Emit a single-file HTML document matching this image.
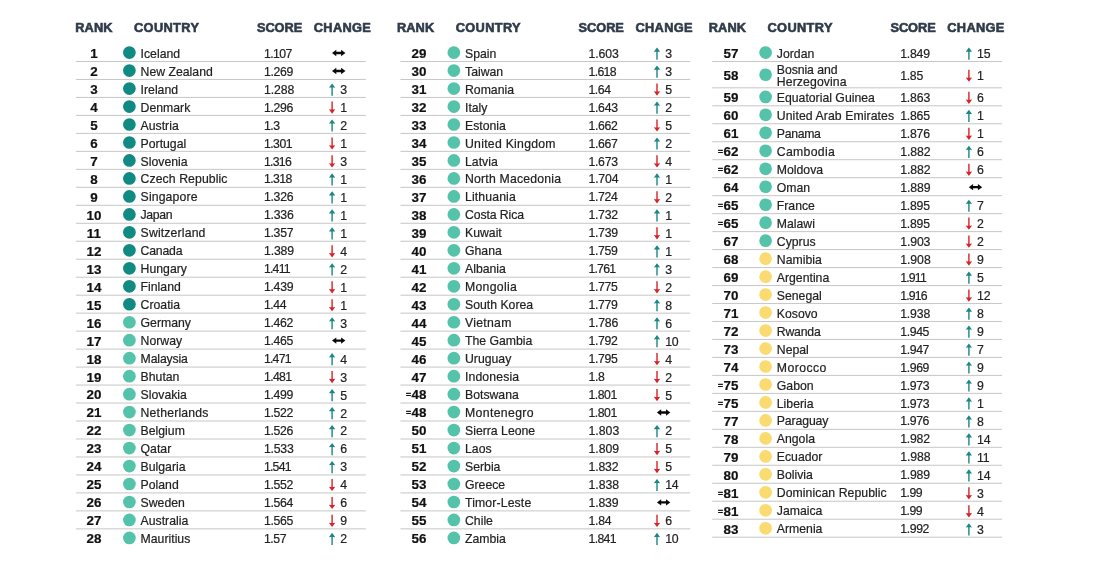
<!DOCTYPE html>
<html lang="en"><head><meta charset="utf-8"><title>Global Peace Index ranking</title>
<style>
html,body{margin:0;padding:0;background:#fff;}
body{width:1095px;height:587px;position:relative;overflow:hidden;font-family:"Liberation Sans",sans-serif;color:#1d1d1d;}
.h{position:absolute;top:20.0px;font-weight:700;font-size:12.8px;line-height:16px;letter-spacing:.12px;color:#303b4a;white-space:nowrap;-webkit-text-stroke:.6px #303b4a;}
.ln{position:absolute;height:1px;background:#cdcdcd;box-shadow:0 1px 0 #efefef,0 -1px 0 #f8f8f8;}
.r{position:absolute;width:40px;text-align:center;font-weight:700;font-size:12.5px;line-height:16px;color:#111;white-space:nowrap;letter-spacing:.1px;transform:scaleX(1.07);-webkit-text-stroke:.2px #111;}
.r i{position:absolute;right:100%;margin-right:-12.6px;font-style:normal;font-size:8px;top:.1px;-webkit-text-stroke:.45px #111;transform:scaleY(.85);letter-spacing:0}
.d{position:absolute;width:12.8px;height:12.8px;border-radius:50%;}
.c{position:absolute;font-size:12.25px;line-height:16px;white-space:nowrap;color:#222;-webkit-text-stroke:.2px #222;}
.c2{line-height:11.9px;}
.s{position:absolute;font-size:12.25px;line-height:16px;white-space:nowrap;color:#222;letter-spacing:-.42px;-webkit-text-stroke:.2px #222;}
.n{position:absolute;font-size:12.3px;line-height:16px;white-space:nowrap;color:#222;letter-spacing:-.3px;-webkit-text-stroke:.2px #222;}
svg{position:absolute;overflow:visible;}
</style></head><body>

<svg width="1095" height="587" viewBox="0 0 1095 587" style="left:0;top:0"><rect x="76.00" y="60.98" width="289.80" height="1.05" fill="#c9c9c9"/>
<circle cx="129.40" cy="52.61" r="6.35" fill="#118a84"/>
<path transform="translate(332.10 50.01)" d="M-0.1 3 L4.2 -0.2 V1.8 H9 V-0.2 L13.3 3 L9 6.2 V4.2 H4.2 V6.2 Z" fill="#0a0a0a"/>
<rect x="76.00" y="78.95" width="289.80" height="1.05" fill="#c9c9c9"/>
<circle cx="129.40" cy="70.59" r="6.35" fill="#118a84"/>
<path transform="translate(332.10 67.99)" d="M-0.1 3 L4.2 -0.2 V1.8 H9 V-0.2 L13.3 3 L9 6.2 V4.2 H4.2 V6.2 Z" fill="#0a0a0a"/>
<rect x="76.00" y="96.93" width="289.80" height="1.05" fill="#c9c9c9"/>
<circle cx="129.40" cy="88.56" r="6.35" fill="#118a84"/>
<path transform="translate(329.00 83.46)" d="M3.1 0 L6.3 4.3 Q3.1 3.5 -0.1 4.3 Z M2.4 2.5 H3.8 V12.2 H2.4 Z" fill="#1a8784"/>
<rect x="76.00" y="114.90" width="289.80" height="1.05" fill="#c9c9c9"/>
<circle cx="129.40" cy="106.54" r="6.35" fill="#118a84"/>
<path transform="translate(329.00 101.44)" d="M3.1 12.2 L-0.1 7.8 Q3.1 8.3 6.3 7.8 Z M2.4 0 H3.8 V9.5 H2.4 Z" fill="#d6232a"/>
<rect x="76.00" y="132.88" width="289.80" height="1.05" fill="#c9c9c9"/>
<circle cx="129.40" cy="124.51" r="6.35" fill="#118a84"/>
<path transform="translate(329.00 119.41)" d="M3.1 0 L6.3 4.3 Q3.1 3.5 -0.1 4.3 Z M2.4 2.5 H3.8 V12.2 H2.4 Z" fill="#1a8784"/>
<rect x="76.00" y="150.85" width="289.80" height="1.05" fill="#c9c9c9"/>
<circle cx="129.40" cy="142.49" r="6.35" fill="#118a84"/>
<path transform="translate(329.00 137.39)" d="M3.1 12.2 L-0.1 7.8 Q3.1 8.3 6.3 7.8 Z M2.4 0 H3.8 V9.5 H2.4 Z" fill="#d6232a"/>
<rect x="76.00" y="168.83" width="289.80" height="1.05" fill="#c9c9c9"/>
<circle cx="129.40" cy="160.46" r="6.35" fill="#118a84"/>
<path transform="translate(329.00 155.36)" d="M3.1 12.2 L-0.1 7.8 Q3.1 8.3 6.3 7.8 Z M2.4 0 H3.8 V9.5 H2.4 Z" fill="#d6232a"/>
<rect x="76.00" y="186.80" width="289.80" height="1.05" fill="#c9c9c9"/>
<circle cx="129.40" cy="178.44" r="6.35" fill="#118a84"/>
<path transform="translate(329.00 173.34)" d="M3.1 0 L6.3 4.3 Q3.1 3.5 -0.1 4.3 Z M2.4 2.5 H3.8 V12.2 H2.4 Z" fill="#1a8784"/>
<rect x="76.00" y="204.78" width="289.80" height="1.05" fill="#c9c9c9"/>
<circle cx="129.40" cy="196.41" r="6.35" fill="#118a84"/>
<path transform="translate(329.00 191.31)" d="M3.1 0 L6.3 4.3 Q3.1 3.5 -0.1 4.3 Z M2.4 2.5 H3.8 V12.2 H2.4 Z" fill="#1a8784"/>
<rect x="76.00" y="222.75" width="289.80" height="1.05" fill="#c9c9c9"/>
<circle cx="129.40" cy="214.39" r="6.35" fill="#118a84"/>
<path transform="translate(329.00 209.29)" d="M3.1 0 L6.3 4.3 Q3.1 3.5 -0.1 4.3 Z M2.4 2.5 H3.8 V12.2 H2.4 Z" fill="#1a8784"/>
<rect x="76.00" y="240.73" width="289.80" height="1.05" fill="#c9c9c9"/>
<circle cx="129.40" cy="232.36" r="6.35" fill="#118a84"/>
<path transform="translate(329.00 227.26)" d="M3.1 0 L6.3 4.3 Q3.1 3.5 -0.1 4.3 Z M2.4 2.5 H3.8 V12.2 H2.4 Z" fill="#1a8784"/>
<rect x="76.00" y="258.70" width="289.80" height="1.05" fill="#c9c9c9"/>
<circle cx="129.40" cy="250.34" r="6.35" fill="#118a84"/>
<path transform="translate(329.00 245.24)" d="M3.1 12.2 L-0.1 7.8 Q3.1 8.3 6.3 7.8 Z M2.4 0 H3.8 V9.5 H2.4 Z" fill="#d6232a"/>
<rect x="76.00" y="276.68" width="289.80" height="1.05" fill="#c9c9c9"/>
<circle cx="129.40" cy="268.31" r="6.35" fill="#118a84"/>
<path transform="translate(329.00 263.21)" d="M3.1 0 L6.3 4.3 Q3.1 3.5 -0.1 4.3 Z M2.4 2.5 H3.8 V12.2 H2.4 Z" fill="#1a8784"/>
<rect x="76.00" y="294.66" width="289.80" height="1.05" fill="#c9c9c9"/>
<circle cx="129.40" cy="286.29" r="6.35" fill="#118a84"/>
<path transform="translate(329.00 281.19)" d="M3.1 12.2 L-0.1 7.8 Q3.1 8.3 6.3 7.8 Z M2.4 0 H3.8 V9.5 H2.4 Z" fill="#d6232a"/>
<rect x="76.00" y="312.63" width="289.80" height="1.05" fill="#c9c9c9"/>
<circle cx="129.40" cy="304.26" r="6.35" fill="#118a84"/>
<path transform="translate(329.00 299.16)" d="M3.1 12.2 L-0.1 7.8 Q3.1 8.3 6.3 7.8 Z M2.4 0 H3.8 V9.5 H2.4 Z" fill="#d6232a"/>
<rect x="76.00" y="330.61" width="289.80" height="1.05" fill="#c9c9c9"/>
<circle cx="129.40" cy="322.24" r="6.35" fill="#55c3aa"/>
<path transform="translate(329.00 317.14)" d="M3.1 0 L6.3 4.3 Q3.1 3.5 -0.1 4.3 Z M2.4 2.5 H3.8 V12.2 H2.4 Z" fill="#1a8784"/>
<rect x="76.00" y="348.58" width="289.80" height="1.05" fill="#c9c9c9"/>
<circle cx="129.40" cy="340.21" r="6.35" fill="#55c3aa"/>
<path transform="translate(332.10 337.61)" d="M-0.1 3 L4.2 -0.2 V1.8 H9 V-0.2 L13.3 3 L9 6.2 V4.2 H4.2 V6.2 Z" fill="#0a0a0a"/>
<rect x="76.00" y="366.56" width="289.80" height="1.05" fill="#c9c9c9"/>
<circle cx="129.40" cy="358.19" r="6.35" fill="#55c3aa"/>
<path transform="translate(329.00 353.09)" d="M3.1 0 L6.3 4.3 Q3.1 3.5 -0.1 4.3 Z M2.4 2.5 H3.8 V12.2 H2.4 Z" fill="#1a8784"/>
<rect x="76.00" y="384.53" width="289.80" height="1.05" fill="#c9c9c9"/>
<circle cx="129.40" cy="376.16" r="6.35" fill="#55c3aa"/>
<path transform="translate(329.00 371.06)" d="M3.1 12.2 L-0.1 7.8 Q3.1 8.3 6.3 7.8 Z M2.4 0 H3.8 V9.5 H2.4 Z" fill="#d6232a"/>
<rect x="76.00" y="402.51" width="289.80" height="1.05" fill="#c9c9c9"/>
<circle cx="129.40" cy="394.14" r="6.35" fill="#55c3aa"/>
<path transform="translate(329.00 389.04)" d="M3.1 0 L6.3 4.3 Q3.1 3.5 -0.1 4.3 Z M2.4 2.5 H3.8 V12.2 H2.4 Z" fill="#1a8784"/>
<rect x="76.00" y="420.48" width="289.80" height="1.05" fill="#c9c9c9"/>
<circle cx="129.40" cy="412.11" r="6.35" fill="#55c3aa"/>
<path transform="translate(329.00 407.01)" d="M3.1 0 L6.3 4.3 Q3.1 3.5 -0.1 4.3 Z M2.4 2.5 H3.8 V12.2 H2.4 Z" fill="#1a8784"/>
<rect x="76.00" y="438.46" width="289.80" height="1.05" fill="#c9c9c9"/>
<circle cx="129.40" cy="430.09" r="6.35" fill="#55c3aa"/>
<path transform="translate(329.00 424.99)" d="M3.1 0 L6.3 4.3 Q3.1 3.5 -0.1 4.3 Z M2.4 2.5 H3.8 V12.2 H2.4 Z" fill="#1a8784"/>
<rect x="76.00" y="456.43" width="289.80" height="1.05" fill="#c9c9c9"/>
<circle cx="129.40" cy="448.06" r="6.35" fill="#55c3aa"/>
<path transform="translate(329.00 442.96)" d="M3.1 0 L6.3 4.3 Q3.1 3.5 -0.1 4.3 Z M2.4 2.5 H3.8 V12.2 H2.4 Z" fill="#1a8784"/>
<rect x="76.00" y="474.41" width="289.80" height="1.05" fill="#c9c9c9"/>
<circle cx="129.40" cy="466.04" r="6.35" fill="#55c3aa"/>
<path transform="translate(329.00 460.94)" d="M3.1 0 L6.3 4.3 Q3.1 3.5 -0.1 4.3 Z M2.4 2.5 H3.8 V12.2 H2.4 Z" fill="#1a8784"/>
<rect x="76.00" y="492.38" width="289.80" height="1.05" fill="#c9c9c9"/>
<circle cx="129.40" cy="484.01" r="6.35" fill="#55c3aa"/>
<path transform="translate(329.00 478.91)" d="M3.1 12.2 L-0.1 7.8 Q3.1 8.3 6.3 7.8 Z M2.4 0 H3.8 V9.5 H2.4 Z" fill="#d6232a"/>
<rect x="76.00" y="510.36" width="289.80" height="1.05" fill="#c9c9c9"/>
<circle cx="129.40" cy="501.99" r="6.35" fill="#55c3aa"/>
<path transform="translate(329.00 496.89)" d="M3.1 12.2 L-0.1 7.8 Q3.1 8.3 6.3 7.8 Z M2.4 0 H3.8 V9.5 H2.4 Z" fill="#d6232a"/>
<rect x="76.00" y="528.33" width="289.80" height="1.05" fill="#c9c9c9"/>
<circle cx="129.40" cy="519.96" r="6.35" fill="#55c3aa"/>
<path transform="translate(329.00 514.86)" d="M3.1 12.2 L-0.1 7.8 Q3.1 8.3 6.3 7.8 Z M2.4 0 H3.8 V9.5 H2.4 Z" fill="#d6232a"/>
<circle cx="129.40" cy="537.94" r="6.35" fill="#55c3aa"/>
<path transform="translate(329.00 532.84)" d="M3.1 0 L6.3 4.3 Q3.1 3.5 -0.1 4.3 Z M2.4 2.5 H3.8 V12.2 H2.4 Z" fill="#1a8784"/>
<rect x="400.45" y="60.98" width="289.80" height="1.05" fill="#c9c9c9"/>
<circle cx="453.85" cy="52.61" r="6.35" fill="#55c3aa"/>
<path transform="translate(653.90 47.51)" d="M3.1 0 L6.3 4.3 Q3.1 3.5 -0.1 4.3 Z M2.4 2.5 H3.8 V12.2 H2.4 Z" fill="#1a8784"/>
<rect x="400.45" y="78.95" width="289.80" height="1.05" fill="#c9c9c9"/>
<circle cx="453.85" cy="70.59" r="6.35" fill="#55c3aa"/>
<path transform="translate(653.90 65.49)" d="M3.1 0 L6.3 4.3 Q3.1 3.5 -0.1 4.3 Z M2.4 2.5 H3.8 V12.2 H2.4 Z" fill="#1a8784"/>
<rect x="400.45" y="96.93" width="289.80" height="1.05" fill="#c9c9c9"/>
<circle cx="453.85" cy="88.56" r="6.35" fill="#55c3aa"/>
<path transform="translate(653.90 83.46)" d="M3.1 12.2 L-0.1 7.8 Q3.1 8.3 6.3 7.8 Z M2.4 0 H3.8 V9.5 H2.4 Z" fill="#d6232a"/>
<rect x="400.45" y="114.90" width="289.80" height="1.05" fill="#c9c9c9"/>
<circle cx="453.85" cy="106.54" r="6.35" fill="#55c3aa"/>
<path transform="translate(653.90 101.44)" d="M3.1 0 L6.3 4.3 Q3.1 3.5 -0.1 4.3 Z M2.4 2.5 H3.8 V12.2 H2.4 Z" fill="#1a8784"/>
<rect x="400.45" y="132.88" width="289.80" height="1.05" fill="#c9c9c9"/>
<circle cx="453.85" cy="124.51" r="6.35" fill="#55c3aa"/>
<path transform="translate(653.90 119.41)" d="M3.1 12.2 L-0.1 7.8 Q3.1 8.3 6.3 7.8 Z M2.4 0 H3.8 V9.5 H2.4 Z" fill="#d6232a"/>
<rect x="400.45" y="150.85" width="289.80" height="1.05" fill="#c9c9c9"/>
<circle cx="453.85" cy="142.49" r="6.35" fill="#55c3aa"/>
<path transform="translate(653.90 137.39)" d="M3.1 0 L6.3 4.3 Q3.1 3.5 -0.1 4.3 Z M2.4 2.5 H3.8 V12.2 H2.4 Z" fill="#1a8784"/>
<rect x="400.45" y="168.83" width="289.80" height="1.05" fill="#c9c9c9"/>
<circle cx="453.85" cy="160.46" r="6.35" fill="#55c3aa"/>
<path transform="translate(653.90 155.36)" d="M3.1 12.2 L-0.1 7.8 Q3.1 8.3 6.3 7.8 Z M2.4 0 H3.8 V9.5 H2.4 Z" fill="#d6232a"/>
<rect x="400.45" y="186.80" width="289.80" height="1.05" fill="#c9c9c9"/>
<circle cx="453.85" cy="178.44" r="6.35" fill="#55c3aa"/>
<path transform="translate(653.90 173.34)" d="M3.1 0 L6.3 4.3 Q3.1 3.5 -0.1 4.3 Z M2.4 2.5 H3.8 V12.2 H2.4 Z" fill="#1a8784"/>
<rect x="400.45" y="204.78" width="289.80" height="1.05" fill="#c9c9c9"/>
<circle cx="453.85" cy="196.41" r="6.35" fill="#55c3aa"/>
<path transform="translate(653.90 191.31)" d="M3.1 12.2 L-0.1 7.8 Q3.1 8.3 6.3 7.8 Z M2.4 0 H3.8 V9.5 H2.4 Z" fill="#d6232a"/>
<rect x="400.45" y="222.75" width="289.80" height="1.05" fill="#c9c9c9"/>
<circle cx="453.85" cy="214.39" r="6.35" fill="#55c3aa"/>
<path transform="translate(653.90 209.29)" d="M3.1 0 L6.3 4.3 Q3.1 3.5 -0.1 4.3 Z M2.4 2.5 H3.8 V12.2 H2.4 Z" fill="#1a8784"/>
<rect x="400.45" y="240.73" width="289.80" height="1.05" fill="#c9c9c9"/>
<circle cx="453.85" cy="232.36" r="6.35" fill="#55c3aa"/>
<path transform="translate(653.90 227.26)" d="M3.1 12.2 L-0.1 7.8 Q3.1 8.3 6.3 7.8 Z M2.4 0 H3.8 V9.5 H2.4 Z" fill="#d6232a"/>
<rect x="400.45" y="258.70" width="289.80" height="1.05" fill="#c9c9c9"/>
<circle cx="453.85" cy="250.34" r="6.35" fill="#55c3aa"/>
<path transform="translate(653.90 245.24)" d="M3.1 0 L6.3 4.3 Q3.1 3.5 -0.1 4.3 Z M2.4 2.5 H3.8 V12.2 H2.4 Z" fill="#1a8784"/>
<rect x="400.45" y="276.68" width="289.80" height="1.05" fill="#c9c9c9"/>
<circle cx="453.85" cy="268.31" r="6.35" fill="#55c3aa"/>
<path transform="translate(653.90 263.21)" d="M3.1 0 L6.3 4.3 Q3.1 3.5 -0.1 4.3 Z M2.4 2.5 H3.8 V12.2 H2.4 Z" fill="#1a8784"/>
<rect x="400.45" y="294.66" width="289.80" height="1.05" fill="#c9c9c9"/>
<circle cx="453.85" cy="286.29" r="6.35" fill="#55c3aa"/>
<path transform="translate(653.90 281.19)" d="M3.1 12.2 L-0.1 7.8 Q3.1 8.3 6.3 7.8 Z M2.4 0 H3.8 V9.5 H2.4 Z" fill="#d6232a"/>
<rect x="400.45" y="312.63" width="289.80" height="1.05" fill="#c9c9c9"/>
<circle cx="453.85" cy="304.26" r="6.35" fill="#55c3aa"/>
<path transform="translate(653.90 299.16)" d="M3.1 0 L6.3 4.3 Q3.1 3.5 -0.1 4.3 Z M2.4 2.5 H3.8 V12.2 H2.4 Z" fill="#1a8784"/>
<rect x="400.45" y="330.61" width="289.80" height="1.05" fill="#c9c9c9"/>
<circle cx="453.85" cy="322.24" r="6.35" fill="#55c3aa"/>
<path transform="translate(653.90 317.14)" d="M3.1 0 L6.3 4.3 Q3.1 3.5 -0.1 4.3 Z M2.4 2.5 H3.8 V12.2 H2.4 Z" fill="#1a8784"/>
<rect x="400.45" y="348.58" width="289.80" height="1.05" fill="#c9c9c9"/>
<circle cx="453.85" cy="340.21" r="6.35" fill="#55c3aa"/>
<path transform="translate(653.90 335.11)" d="M3.1 0 L6.3 4.3 Q3.1 3.5 -0.1 4.3 Z M2.4 2.5 H3.8 V12.2 H2.4 Z" fill="#1a8784"/>
<rect x="400.45" y="366.56" width="289.80" height="1.05" fill="#c9c9c9"/>
<circle cx="453.85" cy="358.19" r="6.35" fill="#55c3aa"/>
<path transform="translate(653.90 353.09)" d="M3.1 12.2 L-0.1 7.8 Q3.1 8.3 6.3 7.8 Z M2.4 0 H3.8 V9.5 H2.4 Z" fill="#d6232a"/>
<rect x="400.45" y="384.53" width="289.80" height="1.05" fill="#c9c9c9"/>
<circle cx="453.85" cy="376.16" r="6.35" fill="#55c3aa"/>
<path transform="translate(653.90 371.06)" d="M3.1 12.2 L-0.1 7.8 Q3.1 8.3 6.3 7.8 Z M2.4 0 H3.8 V9.5 H2.4 Z" fill="#d6232a"/>
<rect x="400.45" y="402.51" width="289.80" height="1.05" fill="#c9c9c9"/>
<circle cx="453.85" cy="394.14" r="6.35" fill="#55c3aa"/>
<path transform="translate(653.90 389.04)" d="M3.1 12.2 L-0.1 7.8 Q3.1 8.3 6.3 7.8 Z M2.4 0 H3.8 V9.5 H2.4 Z" fill="#d6232a"/>
<rect x="400.45" y="420.48" width="289.80" height="1.05" fill="#c9c9c9"/>
<circle cx="453.85" cy="412.11" r="6.35" fill="#55c3aa"/>
<path transform="translate(657.00 409.51)" d="M-0.1 3 L4.2 -0.2 V1.8 H9 V-0.2 L13.3 3 L9 6.2 V4.2 H4.2 V6.2 Z" fill="#0a0a0a"/>
<rect x="400.45" y="438.46" width="289.80" height="1.05" fill="#c9c9c9"/>
<circle cx="453.85" cy="430.09" r="6.35" fill="#55c3aa"/>
<path transform="translate(653.90 424.99)" d="M3.1 0 L6.3 4.3 Q3.1 3.5 -0.1 4.3 Z M2.4 2.5 H3.8 V12.2 H2.4 Z" fill="#1a8784"/>
<rect x="400.45" y="456.43" width="289.80" height="1.05" fill="#c9c9c9"/>
<circle cx="453.85" cy="448.06" r="6.35" fill="#55c3aa"/>
<path transform="translate(653.90 442.96)" d="M3.1 12.2 L-0.1 7.8 Q3.1 8.3 6.3 7.8 Z M2.4 0 H3.8 V9.5 H2.4 Z" fill="#d6232a"/>
<rect x="400.45" y="474.41" width="289.80" height="1.05" fill="#c9c9c9"/>
<circle cx="453.85" cy="466.04" r="6.35" fill="#55c3aa"/>
<path transform="translate(653.90 460.94)" d="M3.1 12.2 L-0.1 7.8 Q3.1 8.3 6.3 7.8 Z M2.4 0 H3.8 V9.5 H2.4 Z" fill="#d6232a"/>
<rect x="400.45" y="492.38" width="289.80" height="1.05" fill="#c9c9c9"/>
<circle cx="453.85" cy="484.01" r="6.35" fill="#55c3aa"/>
<path transform="translate(653.90 478.91)" d="M3.1 0 L6.3 4.3 Q3.1 3.5 -0.1 4.3 Z M2.4 2.5 H3.8 V12.2 H2.4 Z" fill="#1a8784"/>
<rect x="400.45" y="510.36" width="289.80" height="1.05" fill="#c9c9c9"/>
<circle cx="453.85" cy="501.99" r="6.35" fill="#55c3aa"/>
<path transform="translate(657.00 499.39)" d="M-0.1 3 L4.2 -0.2 V1.8 H9 V-0.2 L13.3 3 L9 6.2 V4.2 H4.2 V6.2 Z" fill="#0a0a0a"/>
<rect x="400.45" y="528.33" width="289.80" height="1.05" fill="#c9c9c9"/>
<circle cx="453.85" cy="519.96" r="6.35" fill="#55c3aa"/>
<path transform="translate(653.90 514.86)" d="M3.1 12.2 L-0.1 7.8 Q3.1 8.3 6.3 7.8 Z M2.4 0 H3.8 V9.5 H2.4 Z" fill="#d6232a"/>
<circle cx="453.85" cy="537.94" r="6.35" fill="#55c3aa"/>
<path transform="translate(653.90 532.84)" d="M3.1 0 L6.3 4.3 Q3.1 3.5 -0.1 4.3 Z M2.4 2.5 H3.8 V12.2 H2.4 Z" fill="#1a8784"/>
<rect x="712.20" y="60.98" width="289.80" height="1.05" fill="#c9c9c9"/>
<circle cx="765.60" cy="52.61" r="6.35" fill="#55c3aa"/>
<path transform="translate(965.80 47.51)" d="M3.1 0 L6.3 4.3 Q3.1 3.5 -0.1 4.3 Z M2.4 2.5 H3.8 V12.2 H2.4 Z" fill="#1a8784"/>
<rect x="712.20" y="87.28" width="289.80" height="1.05" fill="#c9c9c9"/>
<circle cx="765.60" cy="74.75" r="6.35" fill="#55c3aa"/>
<path transform="translate(965.80 69.65)" d="M3.1 12.2 L-0.1 7.8 Q3.1 8.3 6.3 7.8 Z M2.4 0 H3.8 V9.5 H2.4 Z" fill="#d6232a"/>
<rect x="712.20" y="105.26" width="289.80" height="1.05" fill="#c9c9c9"/>
<circle cx="765.60" cy="96.89" r="6.35" fill="#55c3aa"/>
<path transform="translate(965.80 91.79)" d="M3.1 12.2 L-0.1 7.8 Q3.1 8.3 6.3 7.8 Z M2.4 0 H3.8 V9.5 H2.4 Z" fill="#d6232a"/>
<rect x="712.20" y="123.23" width="289.80" height="1.05" fill="#c9c9c9"/>
<circle cx="765.60" cy="114.86" r="6.35" fill="#55c3aa"/>
<path transform="translate(965.80 109.76)" d="M3.1 0 L6.3 4.3 Q3.1 3.5 -0.1 4.3 Z M2.4 2.5 H3.8 V12.2 H2.4 Z" fill="#1a8784"/>
<rect x="712.20" y="141.20" width="289.80" height="1.05" fill="#c9c9c9"/>
<circle cx="765.60" cy="132.84" r="6.35" fill="#55c3aa"/>
<path transform="translate(965.80 127.74)" d="M3.1 12.2 L-0.1 7.8 Q3.1 8.3 6.3 7.8 Z M2.4 0 H3.8 V9.5 H2.4 Z" fill="#d6232a"/>
<rect x="712.20" y="159.18" width="289.80" height="1.05" fill="#c9c9c9"/>
<circle cx="765.60" cy="150.81" r="6.35" fill="#55c3aa"/>
<path transform="translate(965.80 145.71)" d="M3.1 0 L6.3 4.3 Q3.1 3.5 -0.1 4.3 Z M2.4 2.5 H3.8 V12.2 H2.4 Z" fill="#1a8784"/>
<rect x="712.20" y="177.15" width="289.80" height="1.05" fill="#c9c9c9"/>
<circle cx="765.60" cy="168.79" r="6.35" fill="#55c3aa"/>
<path transform="translate(965.80 163.69)" d="M3.1 12.2 L-0.1 7.8 Q3.1 8.3 6.3 7.8 Z M2.4 0 H3.8 V9.5 H2.4 Z" fill="#d6232a"/>
<rect x="712.20" y="195.13" width="289.80" height="1.05" fill="#c9c9c9"/>
<circle cx="765.60" cy="186.76" r="6.35" fill="#55c3aa"/>
<path transform="translate(968.90 184.16)" d="M-0.1 3 L4.2 -0.2 V1.8 H9 V-0.2 L13.3 3 L9 6.2 V4.2 H4.2 V6.2 Z" fill="#0a0a0a"/>
<rect x="712.20" y="213.10" width="289.80" height="1.05" fill="#c9c9c9"/>
<circle cx="765.60" cy="204.74" r="6.35" fill="#55c3aa"/>
<path transform="translate(965.80 199.64)" d="M3.1 0 L6.3 4.3 Q3.1 3.5 -0.1 4.3 Z M2.4 2.5 H3.8 V12.2 H2.4 Z" fill="#1a8784"/>
<rect x="712.20" y="231.08" width="289.80" height="1.05" fill="#c9c9c9"/>
<circle cx="765.60" cy="222.71" r="6.35" fill="#55c3aa"/>
<path transform="translate(965.80 217.61)" d="M3.1 12.2 L-0.1 7.8 Q3.1 8.3 6.3 7.8 Z M2.4 0 H3.8 V9.5 H2.4 Z" fill="#d6232a"/>
<rect x="712.20" y="249.05" width="289.80" height="1.05" fill="#c9c9c9"/>
<circle cx="765.60" cy="240.69" r="6.35" fill="#55c3aa"/>
<path transform="translate(965.80 235.59)" d="M3.1 12.2 L-0.1 7.8 Q3.1 8.3 6.3 7.8 Z M2.4 0 H3.8 V9.5 H2.4 Z" fill="#d6232a"/>
<rect x="712.20" y="267.03" width="289.80" height="1.05" fill="#c9c9c9"/>
<circle cx="765.60" cy="258.66" r="6.35" fill="#fadb72"/>
<path transform="translate(965.80 253.56)" d="M3.1 12.2 L-0.1 7.8 Q3.1 8.3 6.3 7.8 Z M2.4 0 H3.8 V9.5 H2.4 Z" fill="#d6232a"/>
<rect x="712.20" y="285.00" width="289.80" height="1.05" fill="#c9c9c9"/>
<circle cx="765.60" cy="276.64" r="6.35" fill="#fadb72"/>
<path transform="translate(965.80 271.54)" d="M3.1 0 L6.3 4.3 Q3.1 3.5 -0.1 4.3 Z M2.4 2.5 H3.8 V12.2 H2.4 Z" fill="#1a8784"/>
<rect x="712.20" y="302.98" width="289.80" height="1.05" fill="#c9c9c9"/>
<circle cx="765.60" cy="294.61" r="6.35" fill="#fadb72"/>
<path transform="translate(965.80 289.51)" d="M3.1 12.2 L-0.1 7.8 Q3.1 8.3 6.3 7.8 Z M2.4 0 H3.8 V9.5 H2.4 Z" fill="#d6232a"/>
<rect x="712.20" y="320.96" width="289.80" height="1.05" fill="#c9c9c9"/>
<circle cx="765.60" cy="312.59" r="6.35" fill="#fadb72"/>
<path transform="translate(965.80 307.49)" d="M3.1 0 L6.3 4.3 Q3.1 3.5 -0.1 4.3 Z M2.4 2.5 H3.8 V12.2 H2.4 Z" fill="#1a8784"/>
<rect x="712.20" y="338.93" width="289.80" height="1.05" fill="#c9c9c9"/>
<circle cx="765.60" cy="330.56" r="6.35" fill="#fadb72"/>
<path transform="translate(965.80 325.46)" d="M3.1 0 L6.3 4.3 Q3.1 3.5 -0.1 4.3 Z M2.4 2.5 H3.8 V12.2 H2.4 Z" fill="#1a8784"/>
<rect x="712.20" y="356.91" width="289.80" height="1.05" fill="#c9c9c9"/>
<circle cx="765.60" cy="348.54" r="6.35" fill="#fadb72"/>
<path transform="translate(965.80 343.44)" d="M3.1 0 L6.3 4.3 Q3.1 3.5 -0.1 4.3 Z M2.4 2.5 H3.8 V12.2 H2.4 Z" fill="#1a8784"/>
<rect x="712.20" y="374.88" width="289.80" height="1.05" fill="#c9c9c9"/>
<circle cx="765.60" cy="366.51" r="6.35" fill="#fadb72"/>
<path transform="translate(965.80 361.41)" d="M3.1 0 L6.3 4.3 Q3.1 3.5 -0.1 4.3 Z M2.4 2.5 H3.8 V12.2 H2.4 Z" fill="#1a8784"/>
<rect x="712.20" y="392.86" width="289.80" height="1.05" fill="#c9c9c9"/>
<circle cx="765.60" cy="384.49" r="6.35" fill="#fadb72"/>
<path transform="translate(965.80 379.39)" d="M3.1 0 L6.3 4.3 Q3.1 3.5 -0.1 4.3 Z M2.4 2.5 H3.8 V12.2 H2.4 Z" fill="#1a8784"/>
<rect x="712.20" y="410.83" width="289.80" height="1.05" fill="#c9c9c9"/>
<circle cx="765.60" cy="402.46" r="6.35" fill="#fadb72"/>
<path transform="translate(965.80 397.36)" d="M3.1 0 L6.3 4.3 Q3.1 3.5 -0.1 4.3 Z M2.4 2.5 H3.8 V12.2 H2.4 Z" fill="#1a8784"/>
<rect x="712.20" y="428.81" width="289.80" height="1.05" fill="#c9c9c9"/>
<circle cx="765.60" cy="420.44" r="6.35" fill="#fadb72"/>
<path transform="translate(965.80 415.34)" d="M3.1 0 L6.3 4.3 Q3.1 3.5 -0.1 4.3 Z M2.4 2.5 H3.8 V12.2 H2.4 Z" fill="#1a8784"/>
<rect x="712.20" y="446.78" width="289.80" height="1.05" fill="#c9c9c9"/>
<circle cx="765.60" cy="438.41" r="6.35" fill="#fadb72"/>
<path transform="translate(965.80 433.31)" d="M3.1 0 L6.3 4.3 Q3.1 3.5 -0.1 4.3 Z M2.4 2.5 H3.8 V12.2 H2.4 Z" fill="#1a8784"/>
<rect x="712.20" y="464.76" width="289.80" height="1.05" fill="#c9c9c9"/>
<circle cx="765.60" cy="456.39" r="6.35" fill="#fadb72"/>
<path transform="translate(965.80 451.29)" d="M3.1 0 L6.3 4.3 Q3.1 3.5 -0.1 4.3 Z M2.4 2.5 H3.8 V12.2 H2.4 Z" fill="#1a8784"/>
<rect x="712.20" y="482.73" width="289.80" height="1.05" fill="#c9c9c9"/>
<circle cx="765.60" cy="474.36" r="6.35" fill="#fadb72"/>
<path transform="translate(965.80 469.26)" d="M3.1 0 L6.3 4.3 Q3.1 3.5 -0.1 4.3 Z M2.4 2.5 H3.8 V12.2 H2.4 Z" fill="#1a8784"/>
<rect x="712.20" y="500.71" width="289.80" height="1.05" fill="#c9c9c9"/>
<circle cx="765.60" cy="492.34" r="6.35" fill="#fadb72"/>
<path transform="translate(965.80 487.24)" d="M3.1 12.2 L-0.1 7.8 Q3.1 8.3 6.3 7.8 Z M2.4 0 H3.8 V9.5 H2.4 Z" fill="#d6232a"/>
<rect x="712.20" y="518.68" width="289.80" height="1.05" fill="#c9c9c9"/>
<circle cx="765.60" cy="510.31" r="6.35" fill="#fadb72"/>
<path transform="translate(965.80 505.21)" d="M3.1 12.2 L-0.1 7.8 Q3.1 8.3 6.3 7.8 Z M2.4 0 H3.8 V9.5 H2.4 Z" fill="#d6232a"/>
<rect x="712.20" y="536.66" width="289.80" height="1.05" fill="#c9c9c9"/>
<circle cx="765.60" cy="528.29" r="6.35" fill="#fadb72"/>
<path transform="translate(965.80 523.19)" d="M3.1 0 L6.3 4.3 Q3.1 3.5 -0.1 4.3 Z M2.4 2.5 H3.8 V12.2 H2.4 Z" fill="#1a8784"/></svg>
<div class="h" style="left:75.2px;letter-spacing:0.12px">RANK</div>
<div class="h" style="left:134.0px;letter-spacing:0.36px">COUNTRY</div>
<div class="h" style="left:256.9px;letter-spacing:-0.05px">SCORE</div>
<div class="h" style="left:313.8px;letter-spacing:0.32px">CHANGE</div>
<div class="h" style="left:396.9px;letter-spacing:0.12px">RANK</div>
<div class="h" style="left:455.7px;letter-spacing:0.36px">COUNTRY</div>
<div class="h" style="left:578.6px;letter-spacing:-0.05px">SCORE</div>
<div class="h" style="left:635.5px;letter-spacing:0.32px">CHANGE</div>
<div class="h" style="left:708.7px;letter-spacing:0.12px">RANK</div>
<div class="h" style="left:767.5px;letter-spacing:0.36px">COUNTRY</div>
<div class="h" style="left:890.4px;letter-spacing:-0.05px">SCORE</div>
<div class="h" style="left:947.3px;letter-spacing:0.32px">CHANGE</div>
<div class="r" style="left:74.3px;top:45.9px">1</div>
<div class="c" style="left:140.6px;top:45.6px">Iceland</div>
<div class="s" style="left:264.0px;top:45.6px;letter-spacing:-0.612px">1.107</div>
<div class="r" style="left:74.3px;top:63.9px">2</div>
<div class="c" style="left:140.6px;top:63.6px">New Zealand</div>
<div class="s" style="left:264.0px;top:63.6px;letter-spacing:-0.362px">1.269</div>
<div class="r" style="left:74.3px;top:81.9px">3</div>
<div class="c" style="left:140.6px;top:81.6px">Ireland</div>
<div class="s" style="left:264.0px;top:81.6px;letter-spacing:-0.088px">1.288</div>
<div class="n" style="left:340.3px;top:81.9px">3</div>
<div class="r" style="left:74.3px;top:99.8px">4</div>
<div class="c" style="left:140.6px;top:99.5px">Denmark</div>
<div class="s" style="left:264.0px;top:99.5px;letter-spacing:-0.362px">1.296</div>
<div class="n" style="left:340.3px;top:99.9px">1</div>
<div class="r" style="left:74.3px;top:117.8px">5</div>
<div class="c" style="left:140.6px;top:117.5px">Austria</div>
<div class="s" style="left:264.0px;top:117.5px;letter-spacing:-0.540px">1.3</div>
<div class="n" style="left:340.3px;top:117.9px">2</div>
<div class="r" style="left:74.3px;top:135.8px">6</div>
<div class="c" style="left:140.6px;top:135.5px">Portugal</div>
<div class="s" style="left:264.0px;top:135.5px;letter-spacing:-0.550px">1.301</div>
<div class="n" style="left:340.3px;top:135.8px">1</div>
<div class="r" style="left:74.3px;top:153.8px">7</div>
<div class="c" style="left:140.6px;top:153.5px">Slovenia</div>
<div class="s" style="left:264.0px;top:153.5px;letter-spacing:-0.737px">1.316</div>
<div class="n" style="left:340.3px;top:153.8px">3</div>
<div class="r" style="left:74.3px;top:171.7px">8</div>
<div class="c" style="left:140.6px;top:171.4px;letter-spacing:0.077px">Czech Republic</div>
<div class="s" style="left:264.0px;top:171.4px;letter-spacing:-0.600px">1.318</div>
<div class="n" style="left:340.3px;top:171.8px">1</div>
<div class="r" style="left:74.3px;top:189.7px">9</div>
<div class="c" style="left:140.6px;top:189.4px;letter-spacing:0.125px">Singapore</div>
<div class="s" style="left:264.0px;top:189.4px;letter-spacing:-0.300px">1.326</div>
<div class="n" style="left:340.3px;top:189.8px">1</div>
<div class="r" style="left:74.3px;top:207.7px">10</div>
<div class="c" style="left:140.6px;top:207.4px;letter-spacing:-0.375px">Japan</div>
<div class="s" style="left:264.0px;top:207.4px;letter-spacing:-0.237px">1.336</div>
<div class="n" style="left:340.3px;top:207.7px">1</div>
<div class="r" style="left:74.3px;top:225.7px">11</div>
<div class="c" style="left:140.6px;top:225.4px;letter-spacing:0.150px">Switzerland</div>
<div class="s" style="left:264.0px;top:225.4px;letter-spacing:-0.300px">1.357</div>
<div class="n" style="left:340.3px;top:225.7px">1</div>
<div class="r" style="left:74.3px;top:243.6px">12</div>
<div class="c" style="left:140.6px;top:243.3px;letter-spacing:-0.200px">Canada</div>
<div class="s" style="left:264.0px;top:243.3px;letter-spacing:-0.162px">1.389</div>
<div class="n" style="left:340.3px;top:243.7px">4</div>
<div class="r" style="left:74.3px;top:261.6px">13</div>
<div class="c" style="left:140.6px;top:261.3px">Hungary</div>
<div class="s" style="left:264.0px;top:261.3px;letter-spacing:-0.800px">1.411</div>
<div class="n" style="left:340.3px;top:261.7px">2</div>
<div class="r" style="left:74.3px;top:279.6px">14</div>
<div class="c" style="left:140.6px;top:279.3px">Finland</div>
<div class="s" style="left:264.0px;top:279.3px;letter-spacing:-0.300px">1.439</div>
<div class="n" style="left:340.3px;top:279.6px">1</div>
<div class="r" style="left:74.3px;top:297.6px">15</div>
<div class="c" style="left:140.6px;top:297.3px">Croatia</div>
<div class="s" style="left:264.0px;top:297.3px;letter-spacing:-0.463px">1.44</div>
<div class="n" style="left:340.3px;top:297.6px">1</div>
<div class="r" style="left:74.3px;top:315.5px">16</div>
<div class="c" style="left:140.6px;top:315.2px">Germany</div>
<div class="s" style="left:264.0px;top:315.2px;letter-spacing:-0.362px">1.462</div>
<div class="n" style="left:340.3px;top:315.6px">3</div>
<div class="r" style="left:74.3px;top:333.5px">17</div>
<div class="c" style="left:140.6px;top:333.2px">Norway</div>
<div class="s" style="left:264.0px;top:333.2px;letter-spacing:-0.362px">1.465</div>
<div class="r" style="left:74.3px;top:351.5px">18</div>
<div class="c" style="left:140.6px;top:351.2px;letter-spacing:-0.143px">Malaysia</div>
<div class="s" style="left:264.0px;top:351.2px;letter-spacing:-0.800px">1.471</div>
<div class="n" style="left:340.3px;top:351.5px">4</div>
<div class="r" style="left:74.3px;top:369.5px">19</div>
<div class="c" style="left:140.6px;top:369.2px">Bhutan</div>
<div class="s" style="left:264.0px;top:369.2px;letter-spacing:-0.662px">1.481</div>
<div class="n" style="left:340.3px;top:369.5px">3</div>
<div class="r" style="left:74.3px;top:387.4px">20</div>
<div class="c" style="left:140.6px;top:387.1px">Slovakia</div>
<div class="s" style="left:264.0px;top:387.1px;letter-spacing:-0.362px">1.499</div>
<div class="n" style="left:340.3px;top:387.5px">5</div>
<div class="r" style="left:74.3px;top:405.4px">21</div>
<div class="c" style="left:140.6px;top:405.1px;letter-spacing:0.170px">Netherlands</div>
<div class="s" style="left:264.0px;top:405.1px;letter-spacing:-0.362px">1.522</div>
<div class="n" style="left:340.3px;top:405.5px">2</div>
<div class="r" style="left:74.3px;top:423.4px">22</div>
<div class="c" style="left:140.6px;top:423.1px">Belgium</div>
<div class="s" style="left:264.0px;top:423.1px;letter-spacing:-0.362px">1.526</div>
<div class="n" style="left:340.3px;top:423.4px">2</div>
<div class="r" style="left:74.3px;top:441.4px">23</div>
<div class="c" style="left:140.6px;top:441.1px">Qatar</div>
<div class="s" style="left:264.0px;top:441.1px;letter-spacing:-0.237px">1.533</div>
<div class="n" style="left:340.3px;top:441.4px">6</div>
<div class="r" style="left:74.3px;top:459.3px">24</div>
<div class="c" style="left:140.6px;top:459.0px">Bulgaria</div>
<div class="s" style="left:264.0px;top:459.0px;letter-spacing:-0.800px">1.541</div>
<div class="n" style="left:340.3px;top:459.4px">3</div>
<div class="r" style="left:74.3px;top:477.3px">25</div>
<div class="c" style="left:140.6px;top:477.0px">Poland</div>
<div class="s" style="left:264.0px;top:477.0px;letter-spacing:-0.362px">1.552</div>
<div class="n" style="left:340.3px;top:477.4px">4</div>
<div class="r" style="left:74.3px;top:495.3px">26</div>
<div class="c" style="left:140.6px;top:495.0px">Sweden</div>
<div class="s" style="left:264.0px;top:495.0px;letter-spacing:-0.362px">1.564</div>
<div class="n" style="left:340.3px;top:495.3px">6</div>
<div class="r" style="left:74.3px;top:513.3px">27</div>
<div class="c" style="left:140.6px;top:513.0px">Australia</div>
<div class="s" style="left:264.0px;top:513.0px;letter-spacing:-0.362px">1.565</div>
<div class="n" style="left:340.3px;top:513.3px">9</div>
<div class="r" style="left:74.3px;top:531.2px">28</div>
<div class="c" style="left:140.6px;top:530.9px">Mauritius</div>
<div class="s" style="left:264.0px;top:530.9px;letter-spacing:-0.463px">1.57</div>
<div class="n" style="left:340.3px;top:531.3px">2</div>
<div class="r" style="left:398.9px;top:45.9px">29</div>
<div class="c" style="left:465.0px;top:45.6px">Spain</div>
<div class="s" style="left:588.5px;top:45.6px;letter-spacing:-0.112px">1.603</div>
<div class="n" style="left:665.2px;top:46.0px">3</div>
<div class="r" style="left:398.9px;top:63.9px">30</div>
<div class="c" style="left:465.0px;top:63.6px">Taiwan</div>
<div class="s" style="left:588.5px;top:63.6px;letter-spacing:-0.662px">1.618</div>
<div class="n" style="left:665.2px;top:63.9px">3</div>
<div class="r" style="left:398.9px;top:81.9px">31</div>
<div class="c" style="left:465.0px;top:81.6px">Romania</div>
<div class="s" style="left:588.5px;top:81.6px;letter-spacing:-0.463px">1.64</div>
<div class="n" style="left:665.2px;top:81.9px">5</div>
<div class="r" style="left:398.9px;top:99.8px">32</div>
<div class="c" style="left:465.0px;top:99.5px">Italy</div>
<div class="s" style="left:588.5px;top:99.5px;letter-spacing:-0.300px">1.643</div>
<div class="n" style="left:665.2px;top:99.9px">2</div>
<div class="r" style="left:398.9px;top:117.8px">33</div>
<div class="c" style="left:465.0px;top:117.5px">Estonia</div>
<div class="s" style="left:588.5px;top:117.5px;letter-spacing:-0.362px">1.662</div>
<div class="n" style="left:665.2px;top:117.9px">5</div>
<div class="r" style="left:398.9px;top:135.8px">34</div>
<div class="c" style="left:465.0px;top:135.5px;letter-spacing:0.262px">United Kingdom</div>
<div class="s" style="left:588.5px;top:135.5px;letter-spacing:-0.362px">1.667</div>
<div class="n" style="left:665.2px;top:135.8px">2</div>
<div class="r" style="left:398.9px;top:153.8px">35</div>
<div class="c" style="left:465.0px;top:153.5px">Latvia</div>
<div class="s" style="left:588.5px;top:153.5px;letter-spacing:-0.300px">1.673</div>
<div class="n" style="left:665.2px;top:153.8px">4</div>
<div class="r" style="left:398.9px;top:171.7px">36</div>
<div class="c" style="left:465.0px;top:171.4px;letter-spacing:0.200px">North Macedonia</div>
<div class="s" style="left:588.5px;top:171.4px;letter-spacing:-0.175px">1.704</div>
<div class="n" style="left:665.2px;top:171.8px">1</div>
<div class="r" style="left:398.9px;top:189.7px">37</div>
<div class="c" style="left:465.0px;top:189.4px;letter-spacing:0.125px">Lithuania</div>
<div class="s" style="left:588.5px;top:189.4px;letter-spacing:-0.362px">1.724</div>
<div class="n" style="left:665.2px;top:189.8px">2</div>
<div class="r" style="left:398.9px;top:207.7px">38</div>
<div class="c" style="left:465.0px;top:207.4px;letter-spacing:-0.100px">Costa Rica</div>
<div class="s" style="left:588.5px;top:207.4px;letter-spacing:-0.300px">1.732</div>
<div class="n" style="left:665.2px;top:207.7px">1</div>
<div class="r" style="left:398.9px;top:225.7px">39</div>
<div class="c" style="left:465.0px;top:225.4px">Kuwait</div>
<div class="s" style="left:588.5px;top:225.4px;letter-spacing:-0.300px">1.739</div>
<div class="n" style="left:665.2px;top:225.7px">1</div>
<div class="r" style="left:398.9px;top:243.6px">40</div>
<div class="c" style="left:465.0px;top:243.3px">Ghana</div>
<div class="s" style="left:588.5px;top:243.3px;letter-spacing:-0.362px">1.759</div>
<div class="n" style="left:665.2px;top:243.7px">1</div>
<div class="r" style="left:398.9px;top:261.6px">41</div>
<div class="c" style="left:465.0px;top:261.3px">Albania</div>
<div class="s" style="left:588.5px;top:261.3px;letter-spacing:-0.800px">1.761</div>
<div class="n" style="left:665.2px;top:261.7px">3</div>
<div class="r" style="left:398.9px;top:279.6px">42</div>
<div class="c" style="left:465.0px;top:279.3px;letter-spacing:0.300px">Mongolia</div>
<div class="s" style="left:588.5px;top:279.3px;letter-spacing:-0.362px">1.775</div>
<div class="n" style="left:665.2px;top:279.6px">2</div>
<div class="r" style="left:398.9px;top:297.6px">43</div>
<div class="c" style="left:465.0px;top:297.3px">South Korea</div>
<div class="s" style="left:588.5px;top:297.3px;letter-spacing:-0.362px">1.779</div>
<div class="n" style="left:665.2px;top:297.6px">8</div>
<div class="r" style="left:398.9px;top:315.5px">44</div>
<div class="c" style="left:465.0px;top:315.2px;letter-spacing:0.283px">Vietnam</div>
<div class="s" style="left:588.5px;top:315.2px;letter-spacing:-0.225px">1.786</div>
<div class="n" style="left:665.2px;top:315.6px">6</div>
<div class="r" style="left:398.9px;top:333.5px">45</div>
<div class="c" style="left:465.0px;top:333.2px">The Gambia</div>
<div class="s" style="left:588.5px;top:333.2px;letter-spacing:-0.362px">1.792</div>
<div class="n" style="left:665.2px;top:333.6px">10</div>
<div class="r" style="left:398.9px;top:351.5px">46</div>
<div class="c" style="left:465.0px;top:351.2px">Uruguay</div>
<div class="s" style="left:588.5px;top:351.2px;letter-spacing:-0.362px">1.795</div>
<div class="n" style="left:665.2px;top:351.5px">4</div>
<div class="r" style="left:398.9px;top:369.5px">47</div>
<div class="c" style="left:465.0px;top:369.2px;letter-spacing:0.113px">Indonesia</div>
<div class="s" style="left:588.5px;top:369.2px;letter-spacing:-0.390px">1.8</div>
<div class="n" style="left:665.2px;top:369.5px">2</div>
<div class="r" style="left:398.9px;top:387.4px"><i>=</i>48</div>
<div class="c" style="left:465.0px;top:387.1px">Botswana</div>
<div class="s" style="left:588.5px;top:387.1px;letter-spacing:-0.475px">1.801</div>
<div class="n" style="left:665.2px;top:387.5px">5</div>
<div class="r" style="left:398.9px;top:405.4px"><i>=</i>48</div>
<div class="c" style="left:465.0px;top:405.1px;letter-spacing:0.356px">Montenegro</div>
<div class="s" style="left:588.5px;top:405.1px;letter-spacing:-0.475px">1.801</div>
<div class="r" style="left:398.9px;top:423.4px">50</div>
<div class="c" style="left:465.0px;top:423.1px">Sierra Leone</div>
<div class="s" style="left:588.5px;top:423.1px;letter-spacing:0.025px">1.803</div>
<div class="n" style="left:665.2px;top:423.4px">2</div>
<div class="r" style="left:398.9px;top:441.4px">51</div>
<div class="c" style="left:465.0px;top:441.1px">Laos</div>
<div class="s" style="left:588.5px;top:441.1px;letter-spacing:-0.037px">1.809</div>
<div class="n" style="left:665.2px;top:441.4px">5</div>
<div class="r" style="left:398.9px;top:459.3px">52</div>
<div class="c" style="left:465.0px;top:459.0px">Serbia</div>
<div class="s" style="left:588.5px;top:459.0px;letter-spacing:-0.162px">1.832</div>
<div class="n" style="left:665.2px;top:459.4px">5</div>
<div class="r" style="left:398.9px;top:477.3px">53</div>
<div class="c" style="left:465.0px;top:477.0px">Greece</div>
<div class="s" style="left:588.5px;top:477.0px;letter-spacing:-0.025px">1.838</div>
<div class="n" style="left:665.2px;top:477.4px">14</div>
<div class="r" style="left:398.9px;top:495.3px">54</div>
<div class="c" style="left:465.0px;top:495.0px;letter-spacing:0.130px">Timor-Leste</div>
<div class="s" style="left:588.5px;top:495.0px;letter-spacing:-0.162px">1.839</div>
<div class="r" style="left:398.9px;top:513.3px">55</div>
<div class="c" style="left:465.0px;top:513.0px">Chile</div>
<div class="s" style="left:588.5px;top:513.0px;letter-spacing:-0.280px">1.84</div>
<div class="n" style="left:665.2px;top:513.3px">6</div>
<div class="r" style="left:398.9px;top:531.2px">56</div>
<div class="c" style="left:465.0px;top:530.9px">Zambia</div>
<div class="s" style="left:588.5px;top:530.9px;letter-spacing:-0.662px">1.841</div>
<div class="n" style="left:665.2px;top:531.3px">10</div>
<div class="r" style="left:710.9px;top:45.9px">57</div>
<div class="c" style="left:776.8px;top:45.6px">Jordan</div>
<div class="s" style="left:900.2px;top:45.6px;letter-spacing:-0.225px">1.849</div>
<div class="n" style="left:977.1px;top:46.0px">15</div>
<div class="r" style="left:710.9px;top:68.1px">58</div>
<div class="c c2" style="left:776.8px;top:64.6px"><span style="letter-spacing:-0.067px">Bosnia and</span><br><span style="letter-spacing:0.100px">Herzegovina</span></div>
<div class="s" style="left:900.2px;top:67.8px;letter-spacing:-0.280px">1.85</div>
<div class="n" style="left:977.1px;top:68.1px">1</div>
<div class="r" style="left:710.9px;top:90.2px">59</div>
<div class="c" style="left:776.8px;top:89.9px">Equatorial Guinea</div>
<div class="s" style="left:900.2px;top:89.9px;letter-spacing:-0.162px">1.863</div>
<div class="n" style="left:977.1px;top:90.2px">6</div>
<div class="r" style="left:710.9px;top:108.2px">60</div>
<div class="c" style="left:776.8px;top:107.9px;letter-spacing:0.079px">United Arab Emirates</div>
<div class="s" style="left:900.2px;top:107.9px;letter-spacing:-0.225px">1.865</div>
<div class="n" style="left:977.1px;top:108.2px">1</div>
<div class="r" style="left:710.9px;top:126.1px">61</div>
<div class="c" style="left:776.8px;top:125.8px;letter-spacing:-0.300px">Panama</div>
<div class="s" style="left:900.2px;top:125.8px;letter-spacing:-0.225px">1.876</div>
<div class="n" style="left:977.1px;top:126.2px">1</div>
<div class="r" style="left:710.9px;top:144.1px"><i>=</i>62</div>
<div class="c" style="left:776.8px;top:143.8px;letter-spacing:0.300px">Cambodia</div>
<div class="s" style="left:900.2px;top:143.8px;letter-spacing:-0.088px">1.882</div>
<div class="n" style="left:977.1px;top:144.2px">6</div>
<div class="r" style="left:710.9px;top:162.1px"><i>=</i>62</div>
<div class="c" style="left:776.8px;top:161.8px">Moldova</div>
<div class="s" style="left:900.2px;top:161.8px;letter-spacing:-0.088px">1.882</div>
<div class="n" style="left:977.1px;top:162.1px">6</div>
<div class="r" style="left:710.9px;top:180.1px">64</div>
<div class="c" style="left:776.8px;top:179.8px">Oman</div>
<div class="s" style="left:900.2px;top:179.8px;letter-spacing:-0.088px">1.889</div>
<div class="r" style="left:710.9px;top:198.0px"><i>=</i>65</div>
<div class="c" style="left:776.8px;top:197.7px">France</div>
<div class="s" style="left:900.2px;top:197.7px;letter-spacing:-0.225px">1.895</div>
<div class="n" style="left:977.1px;top:198.1px">7</div>
<div class="r" style="left:710.9px;top:216.0px"><i>=</i>65</div>
<div class="c" style="left:776.8px;top:215.7px">Malawi</div>
<div class="s" style="left:900.2px;top:215.7px;letter-spacing:-0.225px">1.895</div>
<div class="n" style="left:977.1px;top:216.1px">2</div>
<div class="r" style="left:710.9px;top:234.0px">67</div>
<div class="c" style="left:776.8px;top:233.7px">Cyprus</div>
<div class="s" style="left:900.2px;top:233.7px;letter-spacing:-0.112px">1.903</div>
<div class="n" style="left:977.1px;top:234.0px">2</div>
<div class="r" style="left:710.9px;top:252.0px">68</div>
<div class="c" style="left:776.8px;top:251.7px">Namibia</div>
<div class="s" style="left:900.2px;top:251.7px;letter-spacing:-0.037px">1.908</div>
<div class="n" style="left:977.1px;top:252.0px">9</div>
<div class="r" style="left:710.9px;top:269.9px">69</div>
<div class="c" style="left:776.8px;top:269.6px">Argentina</div>
<div class="s" style="left:900.2px;top:269.6px;letter-spacing:-0.800px">1.911</div>
<div class="n" style="left:977.1px;top:270.0px">5</div>
<div class="r" style="left:710.9px;top:287.9px">70</div>
<div class="c" style="left:776.8px;top:287.6px">Senegal</div>
<div class="s" style="left:900.2px;top:287.6px;letter-spacing:-0.800px">1.916</div>
<div class="n" style="left:977.1px;top:288.0px">12</div>
<div class="r" style="left:710.9px;top:305.9px">71</div>
<div class="c" style="left:776.8px;top:305.6px">Kosovo</div>
<div class="s" style="left:900.2px;top:305.6px;letter-spacing:-0.162px">1.938</div>
<div class="n" style="left:977.1px;top:305.9px">8</div>
<div class="r" style="left:710.9px;top:323.9px">72</div>
<div class="c" style="left:776.8px;top:323.6px;letter-spacing:-0.200px">Rwanda</div>
<div class="s" style="left:900.2px;top:323.6px;letter-spacing:-0.362px">1.945</div>
<div class="n" style="left:977.1px;top:323.9px">9</div>
<div class="r" style="left:710.9px;top:341.8px">73</div>
<div class="c" style="left:776.8px;top:341.5px">Nepal</div>
<div class="s" style="left:900.2px;top:341.5px;letter-spacing:-0.362px">1.947</div>
<div class="n" style="left:977.1px;top:341.9px">7</div>
<div class="r" style="left:710.9px;top:359.8px">74</div>
<div class="c" style="left:776.8px;top:359.5px;letter-spacing:0.433px">Morocco</div>
<div class="s" style="left:900.2px;top:359.5px;letter-spacing:-0.362px">1.969</div>
<div class="n" style="left:977.1px;top:359.9px">9</div>
<div class="r" style="left:710.9px;top:377.8px"><i>=</i>75</div>
<div class="c" style="left:776.8px;top:377.5px">Gabon</div>
<div class="s" style="left:900.2px;top:377.5px;letter-spacing:-0.300px">1.973</div>
<div class="n" style="left:977.1px;top:377.8px">9</div>
<div class="r" style="left:710.9px;top:395.8px"><i>=</i>75</div>
<div class="c" style="left:776.8px;top:395.5px">Liberia</div>
<div class="s" style="left:900.2px;top:395.5px;letter-spacing:-0.300px">1.973</div>
<div class="n" style="left:977.1px;top:395.8px">1</div>
<div class="r" style="left:710.9px;top:413.7px">77</div>
<div class="c" style="left:776.8px;top:413.4px;letter-spacing:-0.114px">Paraguay</div>
<div class="s" style="left:900.2px;top:413.4px;letter-spacing:-0.362px">1.976</div>
<div class="n" style="left:977.1px;top:413.8px">8</div>
<div class="r" style="left:710.9px;top:431.7px">78</div>
<div class="c" style="left:776.8px;top:431.4px">Angola</div>
<div class="s" style="left:900.2px;top:431.4px;letter-spacing:-0.225px">1.982</div>
<div class="n" style="left:977.1px;top:431.8px">14</div>
<div class="r" style="left:710.9px;top:449.7px">79</div>
<div class="c" style="left:776.8px;top:449.4px">Ecuador</div>
<div class="s" style="left:900.2px;top:449.4px;letter-spacing:-0.088px">1.988</div>
<div class="n" style="left:977.1px;top:449.7px">11</div>
<div class="r" style="left:710.9px;top:467.7px">80</div>
<div class="c" style="left:776.8px;top:467.4px">Bolivia</div>
<div class="s" style="left:900.2px;top:467.4px;letter-spacing:-0.225px">1.989</div>
<div class="n" style="left:977.1px;top:467.7px">14</div>
<div class="r" style="left:710.9px;top:485.6px"><i>=</i>81</div>
<div class="c" style="left:776.8px;top:485.3px;letter-spacing:0.059px">Dominican Republic</div>
<div class="s" style="left:900.2px;top:485.3px;letter-spacing:-0.463px">1.99</div>
<div class="n" style="left:977.1px;top:485.7px">3</div>
<div class="r" style="left:710.9px;top:503.6px"><i>=</i>81</div>
<div class="c" style="left:776.8px;top:503.3px">Jamaica</div>
<div class="s" style="left:900.2px;top:503.3px;letter-spacing:-0.463px">1.99</div>
<div class="n" style="left:977.1px;top:503.7px">4</div>
<div class="r" style="left:710.9px;top:521.6px">83</div>
<div class="c" style="left:776.8px;top:521.3px">Armenia</div>
<div class="s" style="left:900.2px;top:521.3px;letter-spacing:-0.362px">1.992</div>
<div class="n" style="left:977.1px;top:521.6px">3</div>
</body></html>
